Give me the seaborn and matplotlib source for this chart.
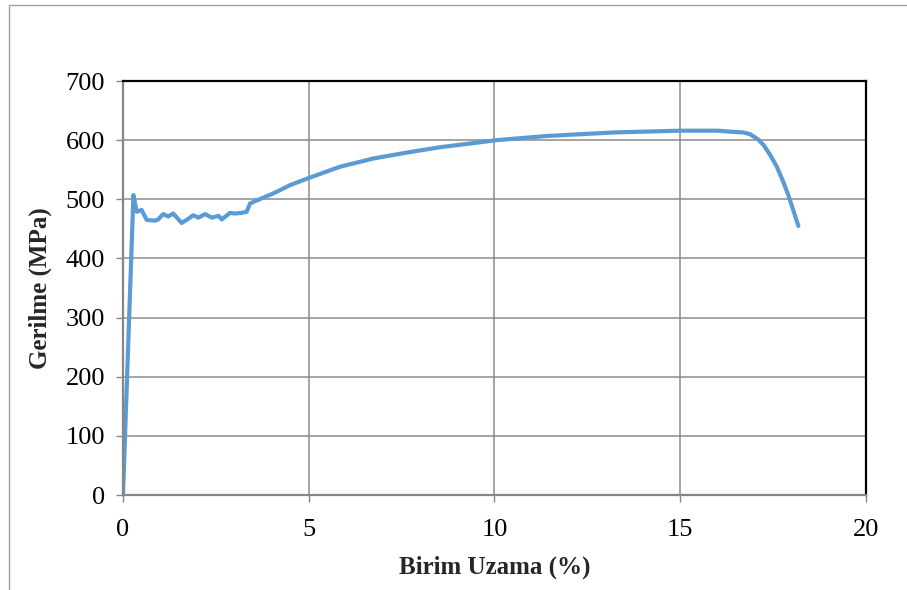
import pandas as pd
import numpy as np
import matplotlib
matplotlib.use("Agg")
import matplotlib.pyplot as plt
import seaborn as sns

# Strain (%) and stress (MPa)
strain = [0.0, 0.28, 0.37, 0.50, 0.64, 0.86, 0.95, 1.08, 1.22, 1.35, 1.58, 1.71,
          1.89, 2.03, 2.21, 2.39, 2.57, 2.66, 2.88, 3.01, 3.19, 3.33, 3.42, 3.82,
          4.05, 4.50, 5.00, 5.84, 6.74, 7.64, 8.53, 9.43, 10.06, 11.40, 13.20,
          15.00, 16.00, 16.43, 16.70, 16.88, 17.10, 17.24, 17.42, 17.60, 17.77,
          17.91, 18.04, 18.18]
stress = [0, 507, 479, 482, 465, 464, 466, 475, 471, 476, 460, 465,
          473, 469, 475, 469, 472, 466, 477, 476, 477, 479, 493, 504,
          510, 524, 536, 555, 569, 579, 588, 595, 600, 607, 613,
          616, 616, 614, 613, 610, 601, 592, 575, 555, 530,
          507, 482, 455]

x_ticks = [0, 5, 10, 15, 20]
y_ticks = [0, 100, 200, 300, 400, 500, 600, 700]

df = pd.DataFrame({"Birim Uzama (%)": strain, "Gerilme (MPa)": stress})

sns.set_style("white")
plt.rcParams["font.family"] = ["Liberation Serif", "DejaVu Serif"]

fig = plt.figure(figsize=(9.07, 5.90), dpi=100)
ax = fig.add_axes([0.1356, 0.161, 0.8192, 0.7017])

sns.lineplot(data=df, x="Birim Uzama (%)", y="Gerilme (MPa)", sort=False,
             color="#5B9BD5", linewidth=3.0, ax=ax)

ax.set_xlim(0, 20)
ax.set_ylim(0, 700)
ax.set_xticks(x_ticks)
ax.set_yticks(y_ticks)
ax.grid(True, color="#8c8c8c", linewidth=1.1)
ax.set_axisbelow(True)

for side in ["top", "right"]:
    ax.spines[side].set_color("black")
    ax.spines[side].set_linewidth(1.6)
for side in ["left", "bottom"]:
    ax.spines[side].set_color("#868686")
    ax.spines[side].set_linewidth(1.6)

ax.tick_params(axis="both", direction="out", length=5, width=1, color="#868686",
               labelsize=19, labelcolor="black", bottom=True, left=True)
ax.tick_params(axis="x", pad=12)
ax.tick_params(axis="y", pad=8)
ax.set_xlabel("Birim Uzama (%)", fontsize=18, fontweight="bold", labelpad=11)
ax.set_ylabel("Gerilme (MPa)", fontsize=18, fontweight="bold", labelpad=10)

# thin frame of the chart area
fig.add_artist(plt.Line2D([9 / 907, 9 / 907], [0, 1 - 5 / 590], color="#a0a0a0", lw=1))
fig.add_artist(plt.Line2D([9 / 907, 1], [1 - 5 / 590, 1 - 5 / 590], color="#a0a0a0", lw=1))

fig.savefig("out.png", dpi=100)
